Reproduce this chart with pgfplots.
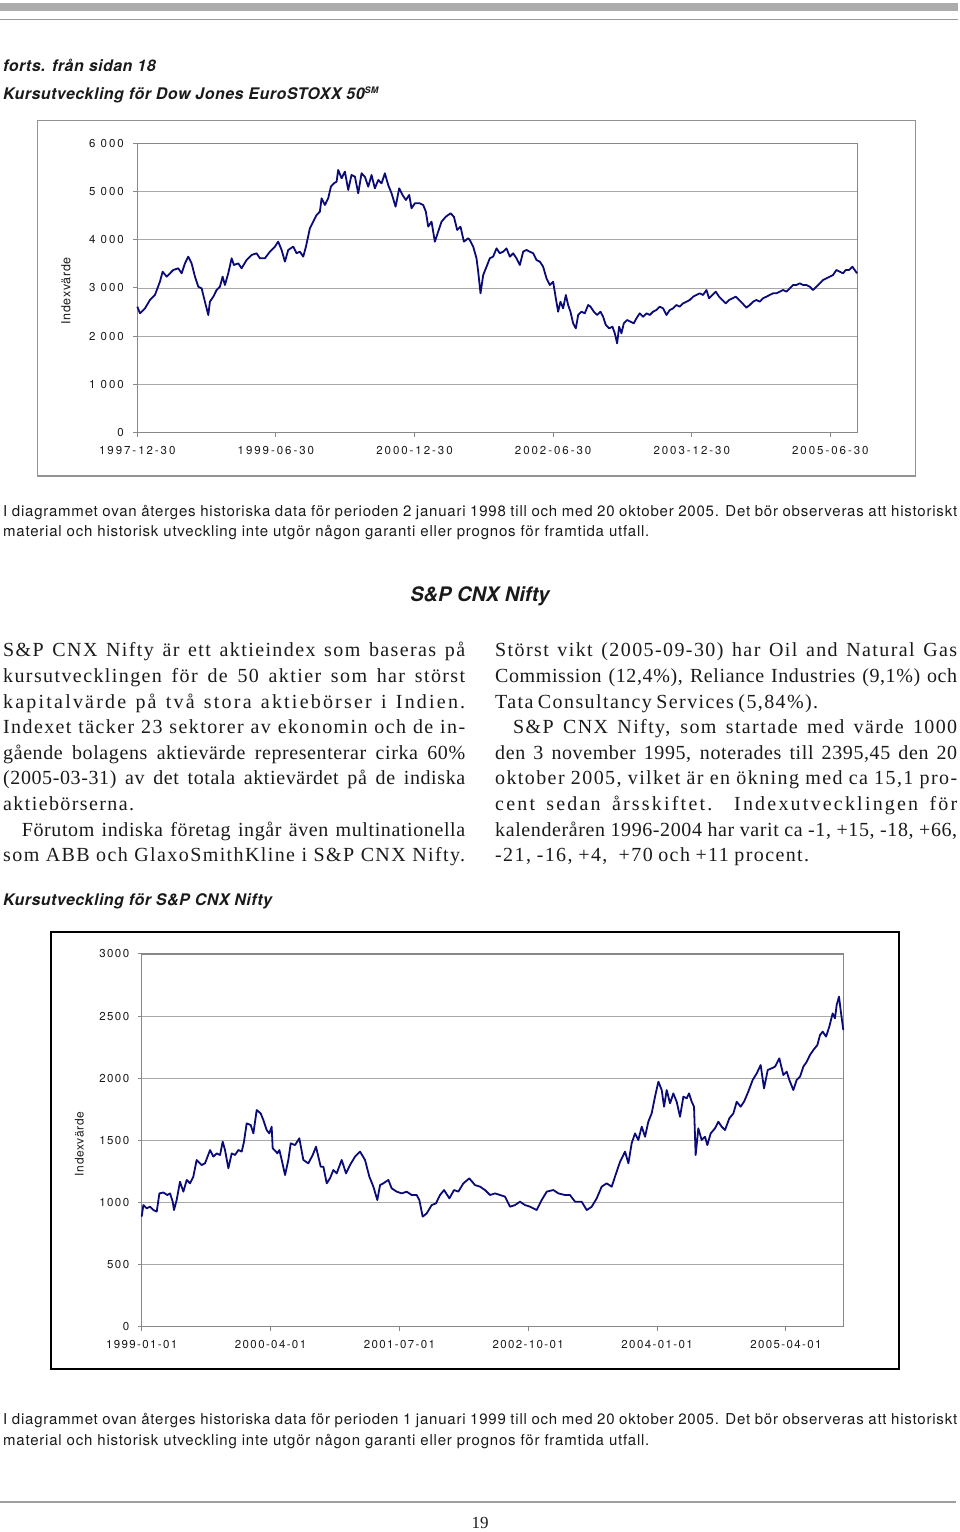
\documentclass[border=0pt]{standalone}
\usepackage{fontspec}
\usepackage{pgfplots}
\pgfplotsset{compat=1.18}
\setmainfont{Liberation Serif}
\setsansfont{TeX Gyre Heros}
\newfontfamily\tickA[LetterSpace=17]{TeX Gyre Heros}
\newfontfamily\tickB[LetterSpace=12]{TeX Gyre Heros}
\newfontfamily\ylabf[LetterSpace=5]{TeX Gyre Heros}
\newfontfamily\hsans[LetterSpace=3]{TeX Gyre Heros}
\newfontfamily\psans[LetterSpace=5.2]{TeX Gyre Heros}
\newfontfamily\serA[LetterSpace=3]{Liberation Serif}
\newfontfamily\serB[LetterSpace=7]{Liberation Serif}
\newfontfamily\serC[LetterSpace=11]{Liberation Serif}
\definecolor{navy}{HTML}{0A0A78}
\definecolor{axgray}{HTML}{888888}
\definecolor{grgray}{HTML}{A8A8A8}
\definecolor{txt}{HTML}{1A1A1A}
\newcommand{\pl}[2]{\makebox[#1pt][s]{#2}}
\begin{document}
\begin{tikzpicture}[x=1pt,y=1pt]
\useasboundingbox (0,0) rectangle (960,1532);
% header rules
\fill[color=gray!65] (0,1521) rectangle (958,1529);
\draw[color=gray!80, line width=1.3pt] (0,1512.3) -- (958,1512.3);
% bottom rule
\draw[color=gray!75, line width=1.8pt] (0,30) -- (956,30);
\node[anchor=base, inner sep=0, font=\fontsize{17}{20}\selectfont, color=txt] at (480,4) {19};

% headings
\node[anchor=base west, inner sep=0, font=\hsans\bfseries\itshape\fontsize{16}{19}\selectfont, color=txt] at (3,1460.3) {forts. från sidan 18};
\node[anchor=base west, inner sep=0, font=\hsans\bfseries\itshape\fontsize{16}{19}\selectfont, color=txt] at (3,1432.7) {Kursutveckling för Dow Jones EuroSTOXX 50\raisebox{6pt}{\fontsize{9}{10}\selectfont SM}};

% chart 1 frame
\draw[color=gray!85, line width=1.2pt] (37.3,1056) rectangle (915.7,1411.3);
\begin{axis}[
  at={(137.3pt,1099.3pt)}, anchor=south west,
  scale only axis, width=720pt, height=289.4pt,
  xmin=0, xmax=93.5, ymin=0, ymax=6000,
  xtick={0,18,36,54,72,90},
  xticklabels={1997-12-30,1999-06-30,2000-12-30,2002-06-30,2003-12-30,2005-06-30},
  ytick={0,1000,2000,3000,4000,5000,6000},
  yticklabels={0,1 000,2 000,3 000,4 000,5 000,6 000},
  tick label style={font=\tickA\fontsize{11.5}{13}\selectfont, color=txt},
  xticklabel style={yshift=-6pt},
  yticklabel style={xshift=-6pt},
  xtick pos=bottom, ytick pos=left, tick align=outside,
  major tick length=4pt, tick style={color=axgray, line width=1pt},
  axis line style={color=axgray, line width=1.4pt},
  ymajorgrids, grid style={color=grgray, line width=0.9pt},
  ylabel={Indexvärde},
  ylabel style={font=\ylabf\fontsize{12.5}{14}\selectfont, color=txt, at={(axis description cs:-0.099,0.49)}, anchor=center},
  clip=false,
]
\addplot[color=navy, line width=1.8pt, line join=round] coordinates {
(0.00,2613)(0.35,2475)(1.00,2578)(1.64,2751)(2.29,2855)(2.94,3131)(3.29,3338)(3.81,3235)(4.24,3304)(4.67,3373)
(5.32,3408)(5.76,3304)(6.19,3511)(6.62,3650)(7.05,3511)(7.49,3235)(7.92,3027)(8.35,2993)(8.78,2716)(9.22,2440)
(9.43,2716)(9.87,2820)(10.30,2958)(10.73,3027)(11.08,3235)(11.38,3062)(11.81,3304)(12.25,3615)(12.55,3477)(13.11,3511)
(13.54,3408)(14.19,3580)(14.84,3684)(15.49,3719)(15.92,3615)(16.57,3615)(17.22,3753)(17.87,3857)(18.30,3961)(18.74,3788)
(19.17,3546)(19.60,3788)(20.25,3857)(20.68,3719)(21.12,3753)(21.55,3650)(21.90,3857)(22.41,4237)(22.85,4375)(23.28,4514)
(23.71,4583)(23.93,4859)(24.36,4721)(24.79,4859)(25.14,5101)(25.53,5170)(25.88,5205)(26.09,5447)(26.53,5274)(26.96,5412)
(27.39,5032)(27.82,5343)(28.26,5308)(28.69,4963)(29.12,5378)(29.55,5308)(29.99,5101)(30.42,5343)(30.85,5066)(31.29,5239)
(31.72,5170)(32.15,5378)(32.58,5135)(33.02,4963)(33.54,4686)(34.01,5066)(34.44,4928)(34.88,4825)(35.31,4928)(35.61,4652)
(36.04,4755)(36.69,4755)(37.13,4721)(37.47,4583)(37.78,4272)(38.21,4375)(38.64,3961)(39.07,4168)(39.51,4375)(40.07,4479)
(40.68,4548)(41.11,4479)(41.54,4203)(41.97,4272)(42.41,3961)(42.97,4030)(43.18,3995)(43.62,3857)(44.05,3615)(44.27,3338)
(44.57,2889)(44.92,3269)(45.35,3442)(45.78,3615)(46.21,3650)(46.65,3822)(47.08,3719)(47.51,3753)(47.94,3822)(48.38,3650)
(48.81,3719)(49.24,3615)(49.68,3477)(50.11,3753)(50.54,3788)(50.97,3753)(51.41,3719)(51.84,3580)(52.27,3546)(52.70,3442)
(53.14,3200)(53.57,3062)(54.00,3131)(54.35,2786)(54.65,2509)(54.95,2716)(55.30,2578)(55.65,2855)(55.95,2647)(56.25,2509)
(56.60,2267)(56.95,2163)(57.25,2440)(57.68,2509)(58.11,2475)(58.55,2647)(58.85,2613)(59.28,2509)(59.71,2440)(60.15,2509)
(60.49,2405)(60.84,2233)(61.27,2163)(61.70,2198)(62.01,2060)(62.31,1852)(62.57,2198)(62.87,2060)(63.18,2267)(63.61,2336)
(64.04,2302)(64.47,2267)(64.82,2371)(65.25,2475)(65.69,2405)(66.12,2475)(66.55,2440)(66.98,2509)(67.42,2544)(67.85,2613)
(68.28,2578)(68.72,2440)(69.15,2544)(69.58,2578)(70.01,2647)(70.45,2613)(70.88,2682)(71.31,2716)(71.74,2751)(72.18,2820)
(72.61,2855)(73.04,2889)(73.47,2855)(73.91,2958)(74.25,2786)(74.69,2855)(75.12,2924)(75.55,2820)(75.99,2751)(76.42,2682)
(76.85,2751)(77.28,2786)(77.72,2820)(78.15,2751)(78.58,2682)(79.10,2592)(79.53,2647)(79.97,2716)(80.40,2751)(80.83,2716)
(81.26,2786)(81.70,2820)(82.13,2855)(82.56,2889)(82.99,2889)(83.43,2924)(83.86,2958)(84.29,2924)(84.73,2993)(85.16,3062)
(85.59,3062)(86.02,3097)(86.46,3062)(86.89,3062)(87.32,3027)(87.75,2958)(88.19,3027)(88.62,3097)(89.05,3166)(89.48,3200)
(89.92,3235)(90.35,3269)(90.78,3373)(91.22,3338)(91.65,3304)(92.00,3373)(92.43,3373)(92.86,3442)(93.16,3373)(93.47,3304)
};
\end{axis}

% paragraph 1
\node[anchor=base west, inner sep=0, font=\psans\fontsize{15}{20}\selectfont, color=txt] at (3,1015.3) {\pl{954}{I diagrammet ovan återges historiska data för perioden 2 januari 1998 till och med 20 oktober 2005. Det bör observeras att historiskt}};
\node[anchor=base west, inner sep=0, font=\psans\fontsize{15}{20}\selectfont, color=txt] at (3,995.3) {material och historisk utveckling inte utgör någon garanti eller prognos för framtida utfall.};

% section heading
\node[anchor=base, inner sep=0, font=\sffamily\bfseries\itshape\fontsize{20}{24}\selectfont, color=txt] at (480,930.3) {S\&P CNX Nifty};

% columns
\begin{scope}[every node/.style={anchor=base west, inner sep=0, font=\serA\fontsize{20}{25}\selectfont, color=txt}]
\node at (3,875) {\serB\pl{462}{S\&P CNX Nifty är ett aktieindex som baseras på}};
\node at (3,849.4) {\serB\pl{462}{kursutvecklingen för de 50 aktier som har störst}};
\node at (3,823.8) {\serC\pl{462}{kapitalvärde på två stora aktiebörser i Indien.}};
\node at (3,798.2) {\serB\pl{462}{Indexet täcker 23 sektorer av ekonomin och de in-}};
\node at (3,772.6) {\pl{462}{gående bolagens aktievärde representerar cirka 60\%}};
\node at (3,747) {\pl{462}{(2005-03-31) av det totala aktievärdet på de indiska}};
\node at (3,721.4) {\serB aktiebörserna.};
\node at (21.7,695.8) {\pl{443.3}{Förutom indiska företag ingår även multinationella}};
\node at (3,670.2) {\serB\pl{462}{som ABB och GlaxoSmithKline i S\&P CNX Nifty.}};
% right column
\node at (495,875) {\serB\pl{462}{Störst vikt (2005-09-30) har Oil and Natural Gas}};
\node at (495,849.4) {\pl{462}{Commission (12,4\%), Reliance Industries (9,1\%) och}};
\node at (495,823.8) {\serB\pl{323}{Tata Consultancy Services (5,84\%).}};
\node at (513,798.2) {\serB\pl{444}{S\&P CNX Nifty, som startade med värde 1000}};
\node at (495,772.6) {\pl{462}{den 3 november 1995, noterades till 2395,45 den 20}};
\node at (495,747) {\serB\pl{462}{oktober 2005, vilket är en ökning med ca 15,1 pro-}};
\node at (495,721.4) {\serC\pl{462}{cent sedan årsskiftet. Indexutvecklingen för}};
\node at (495,695.8) {\pl{462}{kalenderåren 1996-2004 har varit ca -1, +15, -18, +66,}};
\node at (495,670.2) {\serB\pl{314}{-21, -16, +4, \ +70 och +11 procent.}};
\end{scope}

\node[anchor=base west, inner sep=0, font=\hsans\bfseries\itshape\fontsize{16}{19}\selectfont, color=txt] at (3,626) {Kursutveckling för S\&P CNX Nifty};

% chart 2 frame
\draw[color=black, line width=1.8pt] (51,162.7) rectangle (899,600.3);
\begin{axis}[
  at={(141.7pt,205.3pt)}, anchor=south west,
  scale only axis, width=701.6pt, height=372.7pt,
  xmin=0, xmax=81.68, ymin=0, ymax=3000,
  xtick={0,15,30,45,60,75},
  xticklabels={1999-01-01,2000-04-01,2001-07-01,2002-10-01,2004-01-01,2005-04-01},
  ytick={0,500,1000,1500,2000,2500,3000},
  yticklabels={0,500,1000,1500,2000,2500,3000},
  tick label style={font=\tickB\fontsize{11.5}{13}\selectfont, color=txt},
  xticklabel style={yshift=-6pt},
  yticklabel style={xshift=-5pt},
  xtick pos=bottom, ytick pos=left, tick align=outside,
  major tick length=4pt, tick style={color=axgray, line width=1pt},
  axis line style={color=axgray, line width=1.4pt},
  ymajorgrids, grid style={color=grgray, line width=0.9pt},
  ylabel={Indexvärde},
  ylabel style={font=\ylabf\fontsize{12}{14}\selectfont, color=txt, at={(axis description cs:-0.089,0.49)}, anchor=center},
  clip=false,
]
\addplot[color=navy, line width=1.8pt, line join=round] coordinates {
(0.00,886)(0.19,979)(0.58,953)(0.97,966)(1.36,939)(1.75,926)(2.06,1073)(2.52,1080)(2.99,1060)(3.30,1073)
(3.61,1006)(3.76,939)(4.07,1020)(4.46,1167)(4.85,1087)(5.24,1181)(5.63,1154)(6.01,1208)(6.40,1342)(6.98,1301)
(7.37,1315)(7.96,1422)(8.34,1369)(8.73,1395)(9.12,1382)(9.43,1489)(9.70,1422)(10.09,1275)(10.48,1395)(10.87,1382)
(11.25,1422)(11.64,1409)(11.91,1489)(12.22,1637)(12.69,1623)(13.00,1556)(13.39,1744)(13.85,1717)(14.16,1664)(14.55,1583)
(14.86,1556)(15.13,1610)(15.25,1436)(15.64,1409)(15.79,1395)(16.03,1422)(16.30,1342)(16.69,1221)(17.07,1342)(17.35,1476)
(17.85,1462)(18.35,1516)(18.82,1342)(19.40,1315)(19.91,1382)(20.29,1449)(20.84,1288)(21.15,1288)(21.54,1154)(21.92,1194)
(22.31,1261)(22.70,1234)(23.28,1342)(23.79,1234)(24.25,1301)(24.84,1369)(25.42,1409)(26.00,1342)(26.50,1208)(26.97,1127)
(27.43,1020)(27.75,1140)(28.13,1154)(28.72,1181)(29.10,1114)(29.69,1087)(30.27,1073)(30.85,1087)(31.43,1060)(32.01,1060)
(32.32,1020)(32.71,886)(33.18,912)(33.76,979)(34.26,993)(34.73,1060)(35.20,1100)(35.82,1033)(36.36,1100)(36.86,1087)
(37.45,1154)(38.14,1194)(38.80,1140)(39.39,1127)(39.97,1100)(40.55,1060)(41.13,1073)(41.72,1060)(42.30,1047)(42.88,966)
(43.46,979)(44.04,1006)(44.63,979)(45.21,966)(45.98,939)(46.57,1020)(47.15,1087)(47.92,1100)(48.51,1073)(49.28,1060)
(49.86,1060)(50.45,1006)(51.22,1006)(51.81,939)(52.39,966)(52.97,1033)(53.55,1127)(54.13,1154)(54.72,1127)(55.10,1208)
(55.69,1328)(56.27,1409)(56.66,1315)(57.04,1476)(57.43,1556)(57.82,1503)(58.21,1610)(58.60,1529)(58.98,1650)(59.37,1717)
(59.76,1852)(60.15,1972)(60.54,1905)(60.81,1771)(61.12,1905)(61.51,1798)(61.89,1878)(62.28,1811)(62.67,1690)(63.06,1852)
(63.45,1838)(63.72,1878)(64.03,1811)(64.30,1771)(64.49,1382)(64.80,1597)(65.19,1503)(65.58,1529)(65.85,1462)(66.24,1556)
(66.74,1597)(67.13,1650)(67.52,1610)(67.91,1583)(68.41,1677)(68.88,1717)(69.27,1811)(69.73,1771)(70.12,1811)(70.62,1892)
(71.13,1986)(71.60,2039)(72.06,2106)(72.45,1918)(72.88,2066)(73.34,2080)(73.73,2093)(74.23,2160)(74.70,2026)(75.09,2053)
(75.40,1986)(75.86,1905)(76.25,1986)(76.64,2013)(77.03,2093)(77.42,2133)(77.80,2187)(78.19,2227)(78.66,2267)(78.97,2348)
(79.28,2375)(79.67,2335)(80.05,2415)(80.44,2522)(80.71,2482)(80.91,2590)(81.18,2657)(81.37,2549)(81.68,2388)
};
\end{axis}

% paragraph 2
\node[anchor=base west, inner sep=0, font=\psans\fontsize{15}{20}\selectfont, color=txt] at (3,107.3) {\pl{954}{I diagrammet ovan återges historiska data för perioden 1 januari 1999 till och med 20 oktober 2005. Det bör observeras att historiskt}};
\node[anchor=base west, inner sep=0, font=\psans\fontsize{15}{20}\selectfont, color=txt] at (3,86.3) {material och historisk utveckling inte utgör någon garanti eller prognos för framtida utfall.};
\end{tikzpicture}
\end{document}
